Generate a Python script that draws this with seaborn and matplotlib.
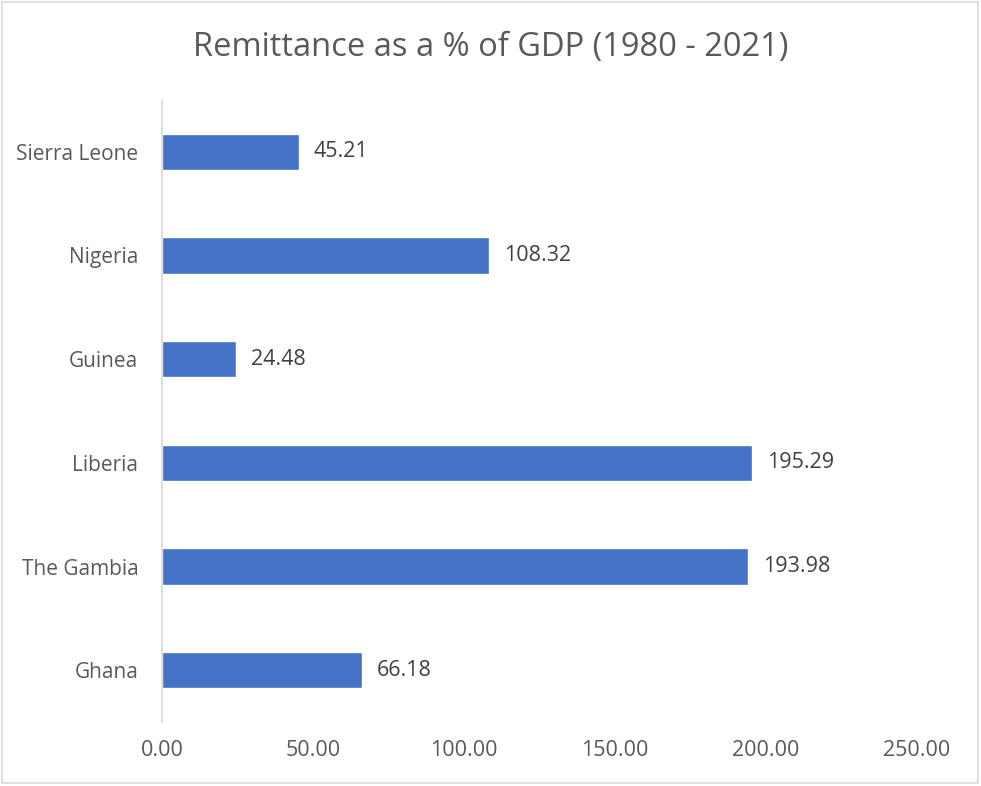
import matplotlib
matplotlib.use("Agg")
import matplotlib.pyplot as plt
import seaborn as sns
import pandas as pd
from matplotlib.patches import Rectangle

countries = ["Sierra Leone", "Nigeria", "Guinea", "Liberia", "The Gambia", "Ghana"]
remittance = [45.21, 108.32, 24.48, 195.29, 193.98, 66.18]
x_ticks = [0, 50, 100, 150, 200, 250]

sns.set_theme(style="white")
plt.rcParams["font.family"] = ["Open Sans", "DejaVu Sans"]

df = pd.DataFrame({"Country": countries, "Remittance": remittance})

fig = plt.figure(figsize=(9.81, 7.86), dpi=100)
ax = fig.add_axes([0.1651, 0.0814, 0.7697, 0.7914])

sns.barplot(data=df, x="Remittance", y="Country", order=countries,
            color="#4472C4", saturation=1, width=0.35, ax=ax)

ax.set_xlim(0, 250)
ax.set_ylim(5.5, -0.5)
ax.set_xticks(x_ticks)
ax.set_xticklabels([f"{v:.2f}" for v in x_ticks])
ax.set_xlabel("")
ax.set_ylabel("")
ax.tick_params(axis="both", length=0, labelcolor="#595959")
ax.tick_params(axis="x", pad=13, labelsize=15.5)
ax.tick_params(axis="y", pad=17, labelsize=15)

for side in ["top", "right", "bottom"]:
    ax.spines[side].set_visible(False)
ax.spines["left"].set_color("#D9D9D9")
ax.spines["left"].set_linewidth(1.2)

ax.bar_label(ax.containers[0], fmt="%.2f", padding=11, fontsize=15.5, color="#404040")

fig.suptitle("Remittance as a % of GDP (1980 - 2021)", y=0.96, fontsize=23.5,
             color="#595959")

fig.patches.append(Rectangle((0.002, 0.004), 0.995, 0.994, transform=fig.transFigure,
                             fill=False, edgecolor="#D9D9D9", linewidth=1.2))

fig.savefig("out.png", dpi=100)
